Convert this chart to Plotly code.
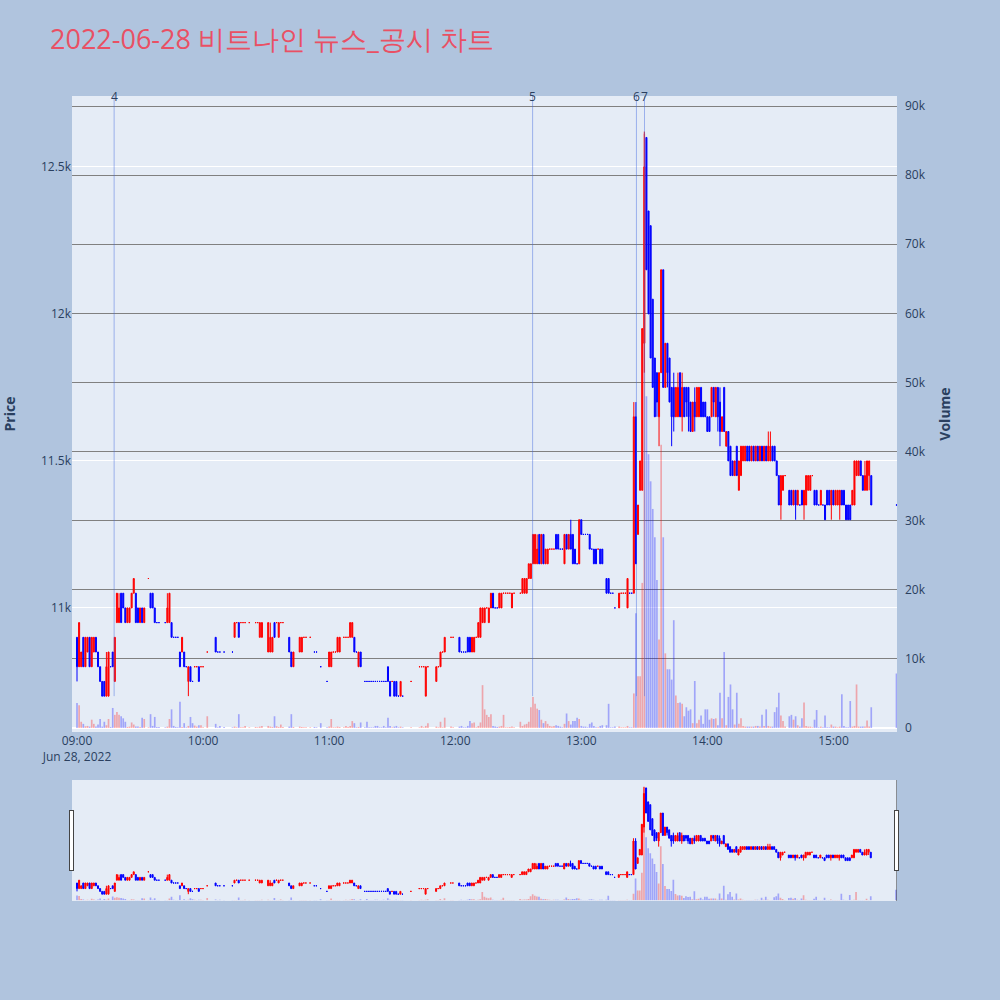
import plotly.graph_objects as go
import pandas as pd

title_text = "2022-06-28 비트나인 뉴스_공시 차트"
base_time = pd.Timestamp("2022-06-28 09:00:00")

# minute offsets from 09:00 of each traded minute
minutes = [
    0, 1, 2, 3, 4, 5, 6, 7, 8, 9,
    10, 11, 12, 13, 14, 15, 16, 17, 18, 19,
    20, 21, 22, 23, 24, 25, 26, 27, 28, 29,
    30, 31, 32, 34, 35, 36, 37, 38, 39, 42,
    43, 44, 45, 46, 47, 48, 49, 50, 51, 52,
    53, 54, 55, 56, 57, 58, 59, 60, 62, 66,
    67, 68, 70, 74, 75, 76, 77, 78, 79, 80,
    82, 85, 86, 87, 88, 91, 92, 93, 94, 95,
    96, 97, 98, 101, 102, 103, 106, 107, 108, 109,
    111, 113, 114, 116, 119, 120, 121, 122, 123, 124,
    125, 127, 128, 129, 130, 131, 132, 133, 134, 135,
    137, 138, 139, 140, 141, 142, 143, 144, 145, 146,
    147, 148, 149, 150, 151, 152, 153, 154, 155, 159,
    163, 164, 165, 166, 167, 171, 172, 173, 174, 175,
    178, 179, 182, 183, 184, 185, 186, 187, 188, 189,
    190, 191, 192, 193, 194, 195, 196, 197, 198, 199,
    200, 201, 202, 203, 204, 205, 206, 207, 208, 211,
    212, 213, 214, 215, 216, 217, 218, 219, 220, 221,
    222, 223, 224, 225, 226, 227, 228, 229, 230, 231,
    232, 233, 234, 235, 236, 237, 238, 239, 240, 241,
    242, 243, 244, 245, 246, 247, 248, 249, 250, 252,
    253, 254, 255, 256, 258, 259, 260, 261, 262, 263,
    264, 265, 266, 267, 268, 269, 270, 271, 272, 273,
    274, 275, 276, 277, 278, 279, 280, 281, 282, 283,
    284, 285, 286, 287, 288, 289, 290, 291, 292, 293,
    294, 295, 296, 297, 298, 299, 300, 301, 302, 303,
    304, 305, 306, 307, 308, 309, 310, 311, 312, 313,
    314, 315, 316, 317, 318, 319, 320, 321, 322, 323,
    324, 325, 326, 327, 328, 329, 330, 331, 332, 333,
    334, 335, 336, 337, 339, 340, 341, 342, 343, 344,
    345, 346, 347, 348, 349, 350, 351, 352, 353, 354,
    355, 356, 357, 358, 359, 360, 361, 362, 363, 364,
    365, 366, 367, 368, 369, 370, 371, 372, 373, 374,
    375, 376, 377, 378, 390,
]

opens = [
    10900, 10800, 10800, 10900, 10800, 10850, 10900, 10800, 10850, 10900,
    10850, 10800, 10750, 10750, 10700, 10700, 10800, 10850, 10750, 10950,
    10950, 11050, 11050, 11000, 10950, 10950, 11000, 11050, 11050, 11000,
    10950, 11000, 10950, 11100, 11050, 11050, 11000, 10950, 10950, 10950,
    10950, 10950, 10950, 10900, 10900, 10900, 10850, 10850, 10850, 10800,
    10750, 10800, 10750, 10800, 10800, 10800, 10800, 10800, 10850, 10900,
    10850, 10850, 10850, 10850, 10900, 10950, 10950, 10950, 10950, 10950,
    10950, 10950, 10950, 10900, 10900, 10850, 10850, 10850, 10950, 10950,
    10900, 10950, 10950, 10900, 10850, 10800, 10850, 10850, 10900, 10900,
    10900, 10850, 10850, 10800, 10750, 10800, 10800, 10850, 10850, 10850,
    10850, 10900, 10900, 10900, 10900, 10900, 10900, 10850, 10800, 10850,
    10750, 10750, 10750, 10750, 10750, 10750, 10750, 10750, 10750, 10750,
    10750, 10800, 10750, 10750, 10750, 10750, 10700, 10700, 10700, 10750,
    10800, 10800, 10800, 10700, 10800, 10750, 10800, 10800, 10850, 10850,
    10900, 10900, 10900, 10850, 10850, 10850, 10900, 10900, 10850, 10850,
    10900, 10900, 10900, 10950, 10950, 11000, 10950, 11000, 11050, 11000,
    11000, 11000, 11000, 11050, 11050, 11050, 11050, 11000, 11050, 11050,
    11050, 11050, 11050, 11100, 11100, 11150, 11150, 11150, 11250, 11150,
    11250, 11150, 11150, 11200, 11200, 11200, 11250, 11250, 11200, 11200,
    11150, 11250, 11200, 11250, 11250, 11200, 11150, 11150, 11300, 11250,
    11250, 11250, 11250, 11200, 11200, 11200, 11200, 11200, 11200, 11100,
    11100, 11050, 11050, 11000, 11000, 11050, 11050, 11050, 11000, 11050,
    11050, 11050, 11650, 11250, 11400, 11400, 11900, 12600, 12350, 12300,
    12050, 11850, 11800, 11650, 11800, 12150, 11750, 11900, 11850, 11750,
    11750, 11650, 11650, 11800, 11650, 11750, 11750, 11750, 11700, 11600,
    11700, 11650, 11650, 11750, 11700, 11700, 11650, 11650, 11650, 11750,
    11650, 11750, 11700, 11600, 11750, 11550, 11600, 11550, 11500, 11450,
    11550, 11400, 11450, 11500, 11500, 11550, 11550, 11500, 11550, 11500,
    11550, 11500, 11550, 11500, 11550, 11500, 11500, 11550, 11550, 11500,
    11450, 11350, 11400, 11450, 11400, 11400, 11350, 11400, 11350, 11350,
    11400, 11350, 11350, 11400, 11400, 11450, 11400, 11400, 11350, 11350,
    11350, 11350, 11400, 11400, 11350, 11400, 11350, 11350, 11350, 11400,
    11400, 11350, 11350, 11350, 11350, 11350, 11450, 11450, 11500, 11450,
    11400, 11400, 11450, 11450, 11350,
]

highs = [
    10900, 10950, 10850, 10900, 10900, 10900, 10900, 10900, 10900, 10900,
    10850, 10800, 10750, 10750, 10850, 10850, 10800, 10850, 10900, 11050,
    11050, 11050, 11050, 11000, 11000, 11000, 11050, 11100, 11050, 11000,
    11000, 11000, 11000, 11100, 11050, 11050, 11000, 10950, 10950, 10950,
    11050, 11050, 10950, 10900, 10900, 10900, 10850, 10900, 10850, 10800,
    10800, 10800, 10750, 10800, 10800, 10800, 10800, 10800, 10850, 10900,
    10850, 10850, 10850, 10850, 10950, 10950, 10950, 10950, 10950, 10950,
    10950, 10950, 10950, 10950, 10950, 10950, 10950, 10900, 10950, 10950,
    10950, 10950, 10950, 10900, 10850, 10850, 10900, 10900, 10900, 10900,
    10900, 10850, 10850, 10800, 10750, 10850, 10850, 10850, 10850, 10900,
    10900, 10900, 10900, 10900, 10950, 10950, 10900, 10850, 10850, 10850,
    10750, 10750, 10750, 10750, 10750, 10750, 10750, 10750, 10750, 10750,
    10750, 10800, 10750, 10750, 10750, 10750, 10700, 10750, 10700, 10750,
    10800, 10800, 10800, 10800, 10800, 10800, 10800, 10850, 10850, 10900,
    10900, 10900, 10900, 10850, 10850, 10850, 10900, 10900, 10900, 10900,
    10900, 10950, 11000, 11000, 11000, 11000, 11000, 11050, 11050, 11000,
    11000, 11050, 11050, 11050, 11050, 11050, 11050, 11050, 11050, 11050,
    11100, 11100, 11100, 11150, 11150, 11250, 11250, 11250, 11250, 11250,
    11250, 11200, 11200, 11200, 11200, 11200, 11250, 11250, 11200, 11200,
    11250, 11250, 11250, 11300, 11250, 11200, 11150, 11300, 11300, 11250,
    11250, 11250, 11250, 11200, 11200, 11200, 11200, 11200, 11200, 11100,
    11100, 11050, 11050, 11000, 11050, 11050, 11050, 11050, 11100, 11050,
    11050, 11700, 11700, 11350, 11500, 11950, 12620, 12600, 12350, 12300,
    12050, 11850, 11800, 11800, 12150, 12150, 11900, 11900, 11850, 11750,
    11800, 11750, 11800, 11800, 11800, 11750, 11750, 11750, 11700, 11700,
    11750, 11750, 11750, 11750, 11700, 11700, 11650, 11650, 11750, 11750,
    11750, 11750, 11750, 11650, 11750, 11600, 11600, 11550, 11500, 11500,
    11550, 11500, 11550, 11550, 11550, 11550, 11550, 11550, 11550, 11550,
    11550, 11550, 11550, 11550, 11550, 11600, 11600, 11550, 11550, 11500,
    11450, 11450, 11450, 11450, 11400, 11400, 11400, 11400, 11400, 11350,
    11400, 11400, 11450, 11450, 11450, 11450, 11400, 11400, 11350, 11400,
    11350, 11350, 11400, 11400, 11400, 11400, 11400, 11400, 11400, 11400,
    11400, 11350, 11350, 11350, 11400, 11500, 11500, 11500, 11500, 11450,
    11500, 11500, 11500, 11450, 11350,
]

lows = [
    10750, 10800, 10800, 10800, 10800, 10850, 10800, 10800, 10850, 10850,
    10800, 10750, 10700, 10700, 10700, 10700, 10800, 10800, 10750, 10950,
    10950, 10950, 11000, 10950, 10950, 10950, 11000, 11050, 10950, 10950,
    10950, 10950, 10950, 11100, 11000, 11000, 10950, 10950, 10950, 10950,
    10950, 10950, 10900, 10900, 10900, 10900, 10800, 10850, 10800, 10800,
    10700, 10750, 10750, 10800, 10800, 10750, 10800, 10800, 10850, 10850,
    10850, 10850, 10850, 10850, 10900, 10950, 10900, 10950, 10950, 10950,
    10950, 10950, 10950, 10900, 10900, 10850, 10850, 10850, 10900, 10950,
    10900, 10950, 10950, 10850, 10800, 10800, 10850, 10850, 10900, 10900,
    10900, 10850, 10850, 10800, 10750, 10800, 10800, 10850, 10850, 10850,
    10850, 10900, 10900, 10900, 10900, 10900, 10850, 10850, 10800, 10800,
    10750, 10750, 10750, 10750, 10750, 10750, 10750, 10750, 10750, 10750,
    10750, 10750, 10700, 10750, 10700, 10700, 10700, 10700, 10700, 10750,
    10800, 10800, 10800, 10700, 10800, 10750, 10800, 10800, 10850, 10850,
    10900, 10900, 10850, 10850, 10850, 10850, 10850, 10850, 10850, 10850,
    10900, 10900, 10900, 10950, 10950, 11000, 10950, 11000, 11000, 11000,
    11000, 11000, 11000, 11050, 11050, 11050, 11050, 11000, 11050, 11050,
    11050, 11050, 11050, 11100, 11100, 11150, 11150, 11150, 11150, 11150,
    11150, 11150, 11150, 11200, 11200, 11200, 11200, 11200, 11200, 11200,
    11150, 11200, 11200, 11200, 11150, 11150, 11150, 11150, 11250, 11250,
    11250, 11250, 11200, 11200, 11150, 11150, 11200, 11150, 11150, 11050,
    11050, 11050, 11050, 11000, 11000, 11050, 11050, 11050, 11000, 11050,
    11050, 11050, 11150, 11250, 11400, 11400, 11800, 12150, 12000, 11850,
    11750, 11650, 11650, 11550, 11800, 11750, 11750, 11750, 11700, 11550,
    11600, 11650, 11650, 11650, 11600, 11650, 11650, 11600, 11600, 11600,
    11600, 11650, 11650, 11650, 11650, 11650, 11600, 11600, 11650, 11650,
    11650, 11600, 11550, 11600, 11600, 11550, 11500, 11450, 11450, 11450,
    11450, 11400, 11450, 11500, 11500, 11500, 11500, 11500, 11500, 11500,
    11500, 11500, 11500, 11500, 11500, 11500, 11500, 11500, 11500, 11450,
    11350, 11300, 11400, 11450, 11350, 11350, 11350, 11300, 11350, 11350,
    11350, 11300, 11350, 11400, 11400, 11450, 11350, 11350, 11350, 11350,
    11350, 11300, 11350, 11350, 11300, 11350, 11350, 11350, 11300, 11350,
    11350, 11300, 11300, 11300, 11350, 11350, 11450, 11450, 11450, 11400,
    11400, 11400, 11400, 11350, 11350,
]

closes = [
    10800, 10950, 10850, 10800, 10900, 10900, 10800, 10900, 10900, 10850,
    10800, 10750, 10700, 10700, 10800, 10850, 10800, 10800, 10900, 11050,
    11000, 10950, 11000, 10950, 11000, 11000, 11050, 11100, 10950, 10950,
    11000, 10950, 11000, 11100, 11000, 11000, 10950, 10950, 10950, 10950,
    11000, 11050, 10900, 10900, 10900, 10900, 10800, 10900, 10800, 10800,
    10800, 10750, 10750, 10800, 10800, 10750, 10800, 10800, 10850, 10850,
    10850, 10850, 10850, 10850, 10950, 10950, 10900, 10950, 10950, 10950,
    10950, 10950, 10950, 10950, 10950, 10950, 10900, 10900, 10900, 10950,
    10950, 10950, 10950, 10850, 10800, 10850, 10900, 10900, 10900, 10900,
    10900, 10850, 10850, 10800, 10750, 10850, 10850, 10850, 10850, 10900,
    10900, 10900, 10900, 10900, 10950, 10950, 10850, 10850, 10850, 10800,
    10750, 10750, 10750, 10750, 10750, 10750, 10750, 10750, 10750, 10750,
    10750, 10750, 10700, 10750, 10700, 10700, 10700, 10750, 10700, 10750,
    10800, 10800, 10800, 10800, 10800, 10800, 10800, 10850, 10850, 10900,
    10900, 10900, 10850, 10850, 10850, 10850, 10850, 10850, 10900, 10900,
    10900, 10950, 11000, 11000, 11000, 11000, 11000, 11050, 11000, 11000,
    11000, 11050, 11050, 11050, 11050, 11050, 11050, 11050, 11050, 11050,
    11100, 11100, 11100, 11150, 11150, 11250, 11250, 11200, 11150, 11250,
    11150, 11200, 11200, 11200, 11200, 11200, 11200, 11200, 11200, 11200,
    11250, 11200, 11250, 11200, 11150, 11150, 11150, 11300, 11250, 11250,
    11250, 11250, 11200, 11200, 11150, 11150, 11200, 11150, 11150, 11050,
    11050, 11050, 11050, 11000, 11050, 11050, 11050, 11050, 11100, 11050,
    11050, 11650, 11150, 11350, 11500, 11950, 12500, 12150, 12000, 11850,
    11750, 11650, 11700, 11800, 12150, 11750, 11900, 11800, 11700, 11650,
    11650, 11750, 11750, 11650, 11750, 11650, 11700, 11650, 11600, 11700,
    11650, 11750, 11750, 11650, 11650, 11650, 11600, 11600, 11750, 11700,
    11750, 11650, 11600, 11650, 11600, 11600, 11500, 11450, 11450, 11500,
    11450, 11500, 11550, 11550, 11550, 11500, 11500, 11550, 11500, 11550,
    11500, 11550, 11500, 11550, 11500, 11550, 11550, 11500, 11500, 11450,
    11350, 11450, 11450, 11450, 11350, 11350, 11400, 11350, 11400, 11350,
    11350, 11400, 11450, 11450, 11450, 11450, 11350, 11350, 11350, 11400,
    11350, 11300, 11350, 11350, 11400, 11350, 11400, 11400, 11400, 11350,
    11350, 11300, 11300, 11300, 11400, 11500, 11500, 11500, 11450, 11400,
    11450, 11500, 11500, 11350, 11350,
]

volumes = [
    3600, 3300, 900, 600, 250, 300, 200, 1200, 600, 200,
    500, 1300, 200, 900, 400, 1300, 150, 2900, 1900, 2300,
    1900, 1700, 1400, 900, 150, 200, 800, 500, 200, 200,
    150, 1500, 1300, 100, 2000, 300, 1600, 150, 150, 100,
    200, 1300, 2700, 300, 150, 100, 3800, 150, 700, 100,
    300, 1600, 700, 350, 200, 400, 400, 100, 1700, 600,
    100, 300, 150, 100, 200, 100, 2000, 100, 100, 300,
    100, 150, 100, 200, 300, 300, 200, 150, 1700, 250,
    150, 500, 150, 200, 2000, 150, 200, 150, 100, 100,
    100, 150, 100, 700, 100, 200, 1300, 100, 100, 200,
    150, 100, 300, 150, 300, 1000, 700, 100, 150, 800,
    100, 900, 100, 100, 100, 300, 300, 100, 100, 300,
    100, 1500, 300, 100, 200, 300, 100, 200, 100, 100,
    100, 300, 100, 300, 700, 200, 100, 900, 100, 1500,
    200, 100, 200, 300, 100, 100, 300, 1000, 700, 800,
    100, 300, 800, 6200, 2700, 1900, 1600, 2000, 300, 200,
    150, 200, 300, 1900, 100, 100, 150, 200, 100, 900,
    300, 500, 600, 900, 3000, 4500, 3500, 2800, 2600, 1200,
    700, 1000, 600, 300, 200, 300, 400, 300, 200, 100,
    600, 2100, 1000, 500, 1000, 1000, 1500, 1300, 300, 200,
    200, 100, 600, 800, 300, 100, 100, 300, 400, 400,
    3500, 100, 100, 200, 200, 100, 100, 100, 300, 100,
    100, 5000, 16600, 7500, 7500, 21000, 86000, 48000, 39600, 35700,
    31700, 27600, 21400, 12800, 41000, 27600, 10800, 8500, 8500, 7000,
    15600, 4700, 3600, 3700, 3500, 1700, 3000, 2500, 2700, 700,
    6800, 700, 1200, 1800, 600, 2700, 2700, 1200, 1400, 1300,
    1400, 400, 5100, 1400, 11000, 400, 4500, 6300, 2700, 500,
    5100, 600, 1400, 300, 200, 200, 200, 200, 200, 300,
    300, 200, 1900, 300, 2700, 300, 200, 200, 2300, 3000,
    5100, 1800, 1000, 200, 1700, 1900, 1200, 1700, 400, 200,
    1400, 3700, 300, 200, 200, 100, 1200, 2600, 100, 200,
    100, 1800, 100, 100, 500, 200, 200, 100, 200, 4900,
    300, 100, 100, 3900, 200, 300, 6300, 200, 200, 200,
    200, 1100, 200, 3000, 7900,
]

news_times = ["2022-06-28 09:17:40", "2022-06-28 12:36:50",
              "2022-06-28 13:26:15", "2022-06-28 13:30:05"]
news_labels = ["4", "5", "6", "7"]
day_low = 10700

price_range = [10578, 12741]
volume_range = [-580, 91460]
x_range = ["2022-06-28 08:57:37", "2022-06-28 15:30:15"]

times = [base_time + pd.Timedelta(minutes=m) for m in minutes]

# volume colour follows the candle direction (same rule plotly uses for dojis)
vol_colors = []
inc = True
prev_close = None
for o, c in zip(opens, closes):
    if c == o:
        if prev_close is not None and c != prev_close:
            inc = c > prev_close
    else:
        inc = c > o
    prev_close = c
    vol_colors.append("rgba(255,0,0,0.3)" if inc else "rgba(0,0,255,0.3)")

fig = go.Figure()
fig.add_trace(go.Candlestick(
    x=times, open=opens, high=highs, low=lows, close=closes,
    increasing=dict(line=dict(color="red", width=1), fillcolor="red"),
    decreasing=dict(line=dict(color="blue", width=1), fillcolor="blue"),
    name="Price", yaxis="y",
))
fig.add_trace(go.Bar(
    x=times, y=volumes, marker=dict(color=vol_colors, line=dict(width=0)),
    name="Volume", yaxis="y2",
))

for t, lab in zip(news_times, news_labels):
    fig.add_shape(type="line", xref="x", yref="y", x0=t, x1=t,
                  y0=day_low, y1=price_range[1],
                  line=dict(color="rgba(65,105,225,0.45)", width=1))
    fig.add_annotation(x=t, xref="x", y=1, yref="paper", yanchor="middle",
                       text=lab, showarrow=False,
                       font=dict(size=12, color="#2a3f5f"))

fig.update_layout(
    width=1000, height=1000,
    title=dict(text=title_text, x=0.05, xanchor="left",
               y=0.96, yanchor="middle",
               font=dict(size=27, color="#E95064")),
    paper_bgcolor="lightsteelblue",
    plot_bgcolor="#E5ECF6",
    margin=dict(l=72, r=103, t=96, b=100),
    showlegend=False,
    xaxis=dict(range=x_range, rangeslider=dict(visible=True, thickness=0.15),
               automargin=False),
    yaxis=dict(title=dict(text="Price", font=dict(size=14, weight="bold"),
                          standoff=23),
               range=price_range, automargin=False, side="left"),
    yaxis2=dict(title=dict(text="Volume", font=dict(size=14, weight="bold"),
                           standoff=15),
                range=volume_range, overlaying="y", side="right",
                ticklabelstandoff=7,
                showgrid=True, gridcolor="gray", automargin=False),
)

fig.write_html("out.html", config={"displayModeBar": False},
               post_script="document.body.style.margin='0px';")
